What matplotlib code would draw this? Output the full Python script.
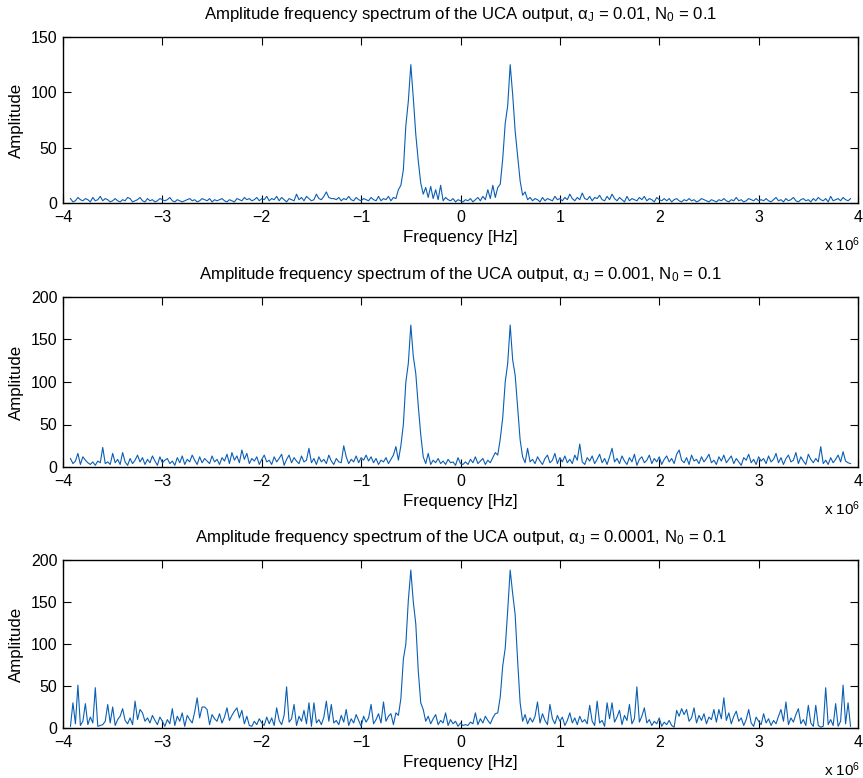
import numpy as np
import matplotlib
matplotlib.use("Agg")
import matplotlib.pyplot as plt
from matplotlib.ticker import FuncFormatter

plt.rcParams['font.family'] = ['Liberation Sans', 'DejaVu Sans']
plt.rcParams['mathtext.fontset'] = 'custom'
plt.rcParams['mathtext.rm'] = 'Liberation Sans'
plt.rcParams['mathtext.it'] = 'Liberation Sans:italic'

# frequency grid in MHz, 0.025 MHz steps from -3.925 to 3.925
freq_mhz = np.linspace(-3.925, 3.925, 315)

alpha_labels = ["0.01", "0.001", "0.0001"]
y_limits = [150, 200, 200]
y_ticks = [[0, 50, 100, 150], [0, 50, 100, 150, 200], [0, 50, 100, 150, 200]]
x_ticks = [-4, -3, -2, -1, 0, 1, 2, 3, 4]

amp_001 = [
    4, 1, 2, 5, 3, 2, 4, 3, 1, 5, 2, 3, 6, 2, 4, 3, 1, 2, 4, 2,
    1, 3, 2, 5, 4, 1, 2, 3, 5, 2, 1, 4, 2, 3, 1, 2, 4, 3, 2, 3,
    5, 2, 1, 3, 2, 1, 2, 3, 4, 2, 3, 1, 2, 4, 3, 2, 4, 1, 3, 2,
    3, 4, 2, 1, 3, 2, 1, 4, 3, 2, 5, 3, 4, 2, 3, 5, 2, 4, 3, 6,
    2, 4, 3, 6, 2, 5, 3, 1, 4, 3, 2, 8, 3, 5, 2, 6, 4, 2, 3, 8,
    4, 3, 6, 10, 5, 4, 4, 3, 5, 2, 4, 3, 6, 3, 2, 5, 3, 2, 4, 3,
    2, 5, 3, 2, 6, 2, 4, 3, 6, 2, 5, 4, 12, 16, 30, 70, 92, 125, 95, 62,
    38, 18, 8, 14, 5, 15, 4, 12, 3, 16, 2, 5, 3, 2, 4, 1, 3, 2, 1, 3,
    2, 4, 1, 3, 5, 2, 6, 3, 12, 4, 16, 5, 14, 17, 40, 72, 88, 125, 98, 65,
    42, 20, 7, 10, 3, 5, 2, 4, 3, 1, 5, 2, 4, 3, 2, 6, 3, 4, 2, 5,
    3, 8, 4, 2, 5, 3, 9, 4, 3, 6, 2, 5, 4, 7, 3, 2, 6, 3, 8, 4,
    2, 5, 3, 1, 6, 2, 4, 3, 2, 5, 3, 6, 2, 4, 3, 1, 5, 3, 2, 4,
    2, 4, 1, 3, 4, 2, 1, 3, 2, 4, 2, 3, 1, 2, 4, 3, 2, 1, 3, 2,
    1, 3, 2, 4, 2, 1, 3, 2, 5, 2, 3, 1, 2, 4, 3, 2, 4, 2, 3, 2,
    4, 2, 1, 3, 5, 2, 3, 1, 4, 2, 3, 5, 2, 1, 3, 4, 2, 3, 1, 4,
    2, 5, 3, 2, 4, 1, 6, 2, 3, 4, 2, 5, 3, 2, 4,
]

amp_0001 = [
    10, 4, 7, 16, 3, 12, 8, 5, 3, 6, 2, 7, 5, 23, 4, 6, 3, 16, 5, 9,
    3, 17, 6, 2, 10, 4, 8, 14, 6, 11, 3, 9, 5, 13, 7, 2, 12, 5, 8, 10,
    4, 7, 2, 11, 5, 13, 3, 9, 6, 14, 8, 3, 12, 5, 10, 7, 4, 13, 6, 9,
    3, 11, 7, 15, 4, 17, 8, 13, 5, 20, 9, 16, 4, 10, 7, 12, 3, 9, 14, 6,
    8, 3, 12, 6, 10, 15, 2, 9, 14, 5, 11, 7, 4, 13, 6, 8, 22, 5, 10, 3,
    12, 6, 9, 4, 14, 7, 3, 10, 6, 5, 25, 12, 4, 9, 6, 13, 5, 11, 8, 14,
    7, 12, 5, 10, 3, 8, 6, 11, 4, 9, 14, 24, 8, 25, 50, 100, 122, 167, 130, 110,
    72, 38, 12, 4, 16, 3, 8, 5, 10, 4, 7, 3, 9, 5, 6, 2, 11, 4, 3, 6,
    3, 9, 5, 12, 4, 7, 10, 3, 8, 5, 11, 17, 14, 33, 58, 100, 122, 167, 126, 108,
    70, 32, 12, 5, 22, 6, 9, 4, 12, 7, 3, 10, 14, 5, 8, 16, 4, 11, 6, 13,
    5, 9, 4, 14, 8, 27, 6, 3, 11, 7, 13, 4, 9, 15, 5, 10, 3, 12, 22, 6,
    10, 4, 13, 7, 3, 11, 6, 15, 2, 9, 12, 5, 8, 14, 4, 10, 6, 12, 3, 9,
    13, 6, 10, 4, 15, 20, 8, 5, 11, 3, 14, 7, 9, 4, 12, 6, 10, 15, 5, 8,
    3, 12, 7, 14, 5, 9, 13, 4, 10, 6, 2, 11, 8, 15, 5, 9, 3, 12, 7, 10,
    4, 13, 6, 9, 16, 5, 11, 3, 10, 14, 6, 8, 17, 4, 12, 7, 3, 15, 9, 5,
    10, 6, 24, 4, 8, 3, 11, 5, 9, 14, 6, 18, 7, 5, 4,
]

amp_00001 = [
    2, 30, 5, 51, 3, 8, 29, 4, 13, 6, 48, 2, 3, 4, 8, 28, 6, 25, 3, 10,
    14, 23, 9, 5, 12, 4, 32, 10, 22, 18, 8, 12, 6, 15, 9, 4, 13, 8, 2, 10,
    5, 23, 3, 14, 8, 18, 2, 15, 10, 6, 19, 36, 12, 25, 25, 22, 4, 16, 11, 8,
    17, 6, 13, 24, 9, 15, 20, 24, 12, 21, 5, 14, 3, 2, 8, 4, 11, 6, 3, 13,
    5, 12, 3, 24, 9, 4, 15, 49, 7, 11, 28, 3, 14, 8, 21, 5, 30, 2, 30, 6,
    10, 4, 13, 32, 8, 28, 6, 9, 4, 15, 7, 22, 3, 11, 6, 16, 9, 2, 14, 7,
    12, 28, 5, 10, 17, 6, 31, 8, 14, 17, 4, 18, 15, 35, 82, 100, 152, 188, 150, 124,
    68, 30, 22, 8, 14, 5, 11, 16, 4, 9, 6, 18, 3, 10, 5, 8, 2, 6, 3, 4,
    3, 7, 5, 18, 4, 11, 6, 14, 9, 5, 12, 17, 18, 37, 74, 95, 140, 188, 160, 135,
    80, 30, 8, 16, 5, 12, 7, 14, 31, 6, 17, 9, 4, 28, 11, 5, 15, 8, 13, 3,
    9, 18, 6, 12, 4, 14, 7, 10, 5, 27, 8, 3, 32, 6, 9, 2, 30, 11, 30, 7,
    13, 21, 4, 15, 9, 28, 5, 11, 49, 7, 14, 24, 6, 10, 3, 8, 5, 12, 2, 7,
    4, 9, 3, 1, 21, 14, 23, 16, 22, 8, 12, 24, 6, 15, 9, 17, 5, 13, 10, 22,
    7, 22, 11, 36, 9, 18, 5, 14, 20, 8, 12, 3, 10, 22, 6, 2, 13, 8, 4, 17,
    6, 11, 3, 9, 5, 14, 22, 8, 31, 4, 12, 7, 16, 23, 5, 10, 3, 27, 6, 2,
    27, 3, 1, 2, 48, 4, 10, 3, 29, 2, 8, 51, 5, 30, 2,
]

series = [amp_001, amp_0001, amp_00001]

W, H = 863, 778
# axes boxes in pixels: (left, top, right, bottom)
boxes = [(63, 37, 858, 203), (63, 297, 858, 467), (63, 560, 858, 728)]

fig = plt.figure(figsize=(W / 100, H / 100), dpi=100)
line_color = '#0a5fb4'

for amp, alpha, ymax, yt, (l, t, r, b) in zip(series, alpha_labels, y_limits, y_ticks, boxes):
    ax = fig.add_axes([l / W, 1 - b / H, (r - l) / W, (b - t) / H])
    ax.plot(freq_mhz * 1e6, amp, color=line_color, linewidth=0.8)
    ax.set_xlim(-4e6, 4e6)
    ax.set_ylim(0, ymax)
    ax.set_xticks([v * 1e6 for v in x_ticks])
    ax.xaxis.set_major_formatter(FuncFormatter(lambda v, p: f"{v / 1e6:g}".replace('-', '\u2212')))
    ax.set_yticks(yt)
    ax.tick_params(direction='in', top=True, right=True, length=6, width=0.8,
                   labelsize=11.5)
    ax.tick_params(axis='x', pad=5)
    ax.tick_params(axis='y', pad=4)
    for s in ax.spines.values():
        s.set_linewidth(1.0)
    ax.set_xlabel("Frequency [Hz]", fontsize=12.2, labelpad=3.5)
    ax.set_ylabel("Amplitude", fontsize=12.2, labelpad=5)
    ax.set_title("Amplitude frequency spectrum of the UCA output, "
                 f"\u03b1$_{{\\mathrm{{J}}}}$ = {alpha}, N$_{{\\mathrm{{0}}}}$ = 0.1",
                 fontsize=12.1, pad=13)
    ax.annotate("x 10$^{6}$", xy=(1.0, 0.0), xycoords='axes fraction',
                xytext=(2, -23), textcoords='offset points',
                ha='right', va='top', fontsize=11)

fig.savefig("out.png", dpi=100)
